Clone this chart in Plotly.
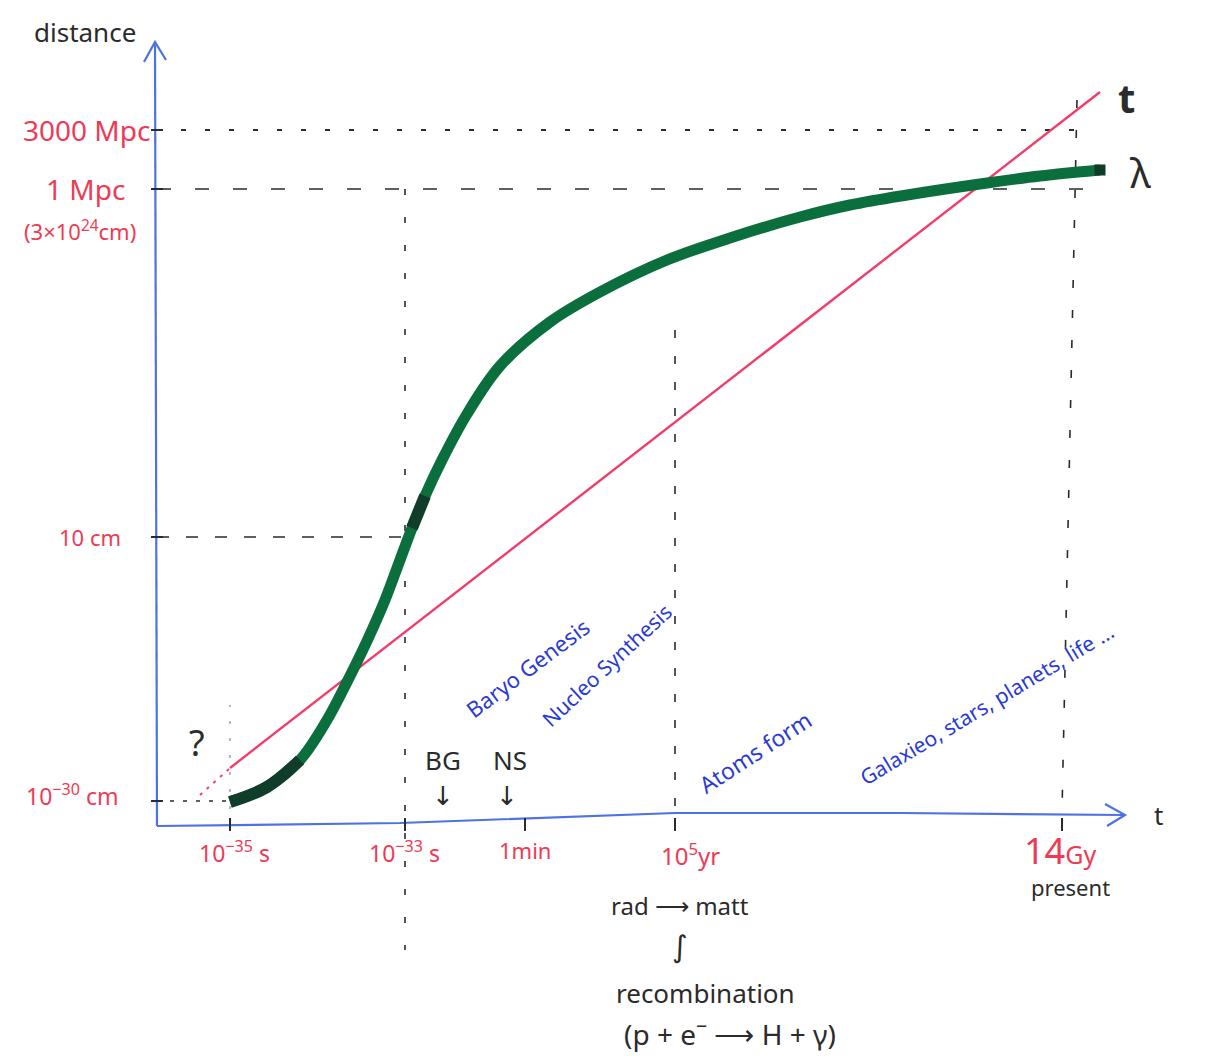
import plotly.graph_objects as go

# ---------------- data (schematic chart units: origin at axes corner) ----------------
# time-axis tick positions and labels
time_tick_pos = [73, 248, 368, 518, 905]
time_tick_labels = ["10<sup>−35</sup> s", "10<sup>−33</sup> s", "1min", "10<sup>5</sup>yr", "14<span style='font-size:25px'>Gy</span>"]

# distance-axis tick positions and labels
dist_tick_pos = [696, 637, 289, 25]
dist_tick_labels = ["3000 Mpc", "1 Mpc", "10 cm", "10<sup>−30</sup> cm"]

# green curve: comoving scale lambda
lambda_t = [73, 110, 143, 170, 190, 210, 228, 243, 255, 268, 285, 310, 343, 393, 443, 510,
            576, 643, 693, 750, 823, 883, 943]
lambda_d = [24, 39, 66, 106, 144, 185, 226, 266, 298, 330, 366, 412, 460, 504, 534, 566,
            589, 609, 621, 631, 642, 650, 656]

# red line: horizon ~ t
horizon_t = [73, 943]
horizon_d = [58, 734]
horizon_ext_t = [43, 73]
horizon_ext_d = [31, 58]

# axes (hand drawn)
xaxis_t = [0, 243, 518, 743, 968]
xaxis_d = [0, 3, 13, 13, 11]
yaxis_t = [0, -2]
yaxis_d = [0, 784]
xarrow_t = [948, 968, 950]
xarrow_d = [22, 11, 0]
yarrow_t = [-13, -2, 9]
yarrow_d = [764, 784, 766]

# epochs
epoch_labels = ["Baryo Genesis", "Nucleo Synthesis", "Atoms form", "Galaxieo, stars, planets, life ..."]
epoch_t = [370, 450, 598, 830]
epoch_d = [158, 161, 74, 122]
epoch_angle = [-37, -43, -33, -31]
epoch_size = [22, 21, 23, 21]

RED = "#ee3b55"
BLUE_TXT = "#2a3ad6"
AXIS_BLUE = "#4d72e3"
INK = "#2b2b2b"
GREEN = "#0b6e3d"
DARK_GREEN = "#0f3d2a"
PINK = "#f23d6c"

fig = go.Figure()

def seg(x, y, color=INK, width=1.6, dash=None, shape="linear", smoothing=1.0):
    fig.add_trace(go.Scatter(x=x, y=y, mode="lines", hoverinfo="skip",
                             line=dict(color=color, width=width, dash=dash, shape=shape,
                                       smoothing=smoothing),
                             showlegend=False))

# dashed guide lines
seg([0, 933], [dist_tick_pos[0], dist_tick_pos[0]], dash="5px,19px", width=2)
seg([0, 943], [dist_tick_pos[1], dist_tick_pos[1]], dash="14px,24px", width=1.6)
seg([0, time_tick_pos[1]], [dist_tick_pos[2], dist_tick_pos[2]], dash="12px,17px", width=1.6)
seg([0, time_tick_pos[0]], [dist_tick_pos[3], dist_tick_pos[3]], dash="4px,9px", width=1.3)
seg([time_tick_pos[0], time_tick_pos[0]], [0, 121], dash="3px,14px", width=1.2, color="#8a8a8a")
seg([time_tick_pos[1], time_tick_pos[1]], [dist_tick_pos[1], -124], dash="6px,22px", width=1.6)
seg([time_tick_pos[3], time_tick_pos[3]], [496, 13], dash="8px,18px", width=1.6)
seg([920, time_tick_pos[4]], [726, 14], dash="8px,22px", width=1.6)

# axes
seg(xaxis_t, xaxis_d, color=AXIS_BLUE, width=2.2)
seg(yaxis_t, yaxis_d, color=AXIS_BLUE, width=2.2)
seg(xarrow_t, xarrow_d, color=AXIS_BLUE, width=2.2)
seg(yarrow_t, yarrow_d, color=AXIS_BLUE, width=2.2)

# tick marks
for xt in time_tick_pos:
    seg([xt, xt], [-5, 8], width=2)
for yt in dist_tick_pos:
    seg([-6, 6], [yt, yt], width=2)

# horizon line t
seg(horizon_ext_t, horizon_ext_d, color=PINK, dash="3px,6px", width=2)
seg(horizon_t, horizon_d, color=PINK, width=2.4)

# lambda curve
seg(lambda_t, lambda_d, color=GREEN, width=11, shape="spline", smoothing=1.0)
seg(lambda_t[:3], lambda_d[:3], color=DARK_GREEN, width=12, shape="spline")
seg(lambda_t[8:10], lambda_d[8:10], color=DARK_GREEN, width=12)
fig.add_trace(go.Scatter(x=[lambda_t[-1]], y=[lambda_d[-1]], mode="markers", hoverinfo="skip",
                         marker=dict(color=DARK_GREEN, size=11, symbol="square"), showlegend=False))

ann = []
FONT = "Noto Sans"

def text(x, y, s, size, color=INK, angle=0, xanchor="center", family=FONT):
    ann.append(dict(x=x, y=y, text=s, showarrow=False, textangle=angle, xanchor=xanchor,
                    yanchor="middle", font=dict(family=family, size=size, color=color)))

# axis titles
text(-72, 794, "distance", 26)
text(1001, 11, "t", 26)

# distance ticks
text(-5, dist_tick_pos[0], dist_tick_labels[0], 28, RED, xanchor="right")
text(-72, dist_tick_pos[1], dist_tick_labels[1], 28, RED)
text(-77, 596, "(3×10<sup>24</sup>cm)", 22, RED)
text(-67, dist_tick_pos[2], dist_tick_labels[2], 22, RED)
text(-85, 31, dist_tick_labels[3], 23, RED)

# time ticks
text(time_tick_pos[0] + 4, -26, time_tick_labels[0], 23, RED)
text(time_tick_pos[1] - 1, -26, time_tick_labels[1], 23, RED)
text(time_tick_pos[2], -24, time_tick_labels[2], 22, RED)
text(time_tick_pos[3] + 15, -28, time_tick_labels[3], 24, RED)
text(time_tick_pos[4] - 2, -24, time_tick_labels[4], 36, RED)
text(913, -61, "present", 22)

# curve labels
text(969, 729, "<b>t</b>", 40)
text(983, 654, "λ", 40)
text(40, 84, "?", 36)

# BG / NS markers
text(286, 66, "BG", 26)
text(286, 30, "↓", 26, family="DejaVu Sans")
text(353, 66, "NS", 26)
text(350, 30, "↓", 26, family="DejaVu Sans")

# epoch texts
for s, x, y, a, fs in zip(epoch_labels, epoch_t, epoch_d, epoch_angle, epoch_size):
    text(x, y, s, fs, BLUE_TXT, angle=a)

# recombination note
text(523, -79, "rad ⟶ matt", 24)
text(523, -120, "∫", 30, family="DejaVu Sans")
text(548, -167, "recombination", 26)
text(573, -206, "(p + e<sup>−</sup> ⟶ H + γ)", 28)

fig.update_layout(
    width=1215, height=1045,
    margin=dict(l=0, r=0, t=0, b=0),
    paper_bgcolor="white", plot_bgcolor="white",
    xaxis=dict(range=[-149, 1066], visible=False, fixedrange=True),
    yaxis=dict(range=[-227, 818], visible=False, fixedrange=True),
    annotations=ann,
    showlegend=False,
)

fig.write_html("out.html")
